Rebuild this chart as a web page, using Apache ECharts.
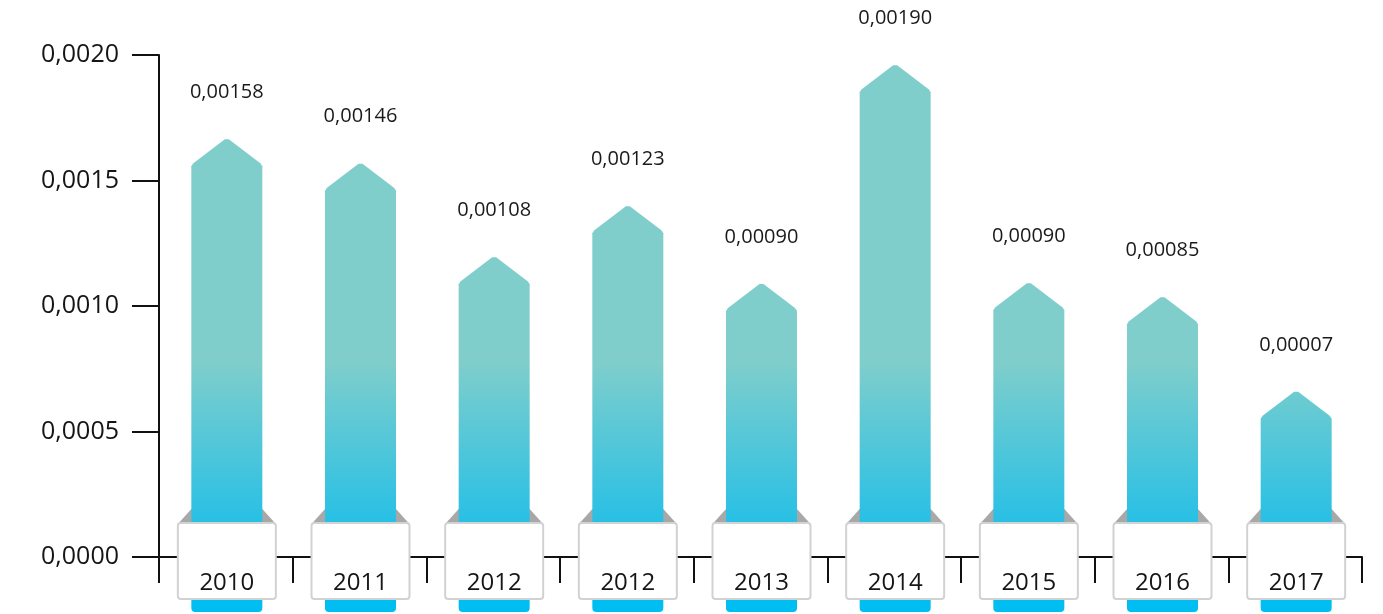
<!DOCTYPE html>
<html>
<head>
<meta charset="utf-8">
<script src="https://cdn.jsdelivr.net/npm/echarts@6/dist/echarts.min.js"></script>
<style>
html,body{margin:0;padding:0;background:#fff;}
#chart{width:1383px;height:614px;}
</style>
</head>
<body>
<div id="chart"></div>
<script>
var categories = ['2010','2011','2012','2012','2013','2014','2015','2016','2017'];
var barValues = [0.001668, 0.001571, 0.001198, 0.001401, 0.001092, 0.001963, 0.001095, 0.001039, 0.000662];
var labelTexts = ['0,00158','0,00146','0,00108','0,00123','0,00090','0,00190','0,00090','0,00085','0,00007'];
var yTicks = [0, 0.0005, 0.0010, 0.0015, 0.0020];

var FONT = '"Open Sans", "Noto Sans", sans-serif';
var chart = echarts.init(document.getElementById('chart'), null, {renderer: 'canvas'});

var seriesData = barValues.map(function (v, i) { return [i, v]; });

function renderItem(params, api) {
  var idx = api.value(0);
  var val = api.value(1);
  var top = api.coord([idx, val]);
  var base = api.coord([idx, 0]);
  var cx = top[0] + 1;
  var peakY = top[1];
  var zeroY = base[1];
  var bw = 71, hw = bw / 2;
  var arrowH = 26;
  var shoulderY = peakY + arrowH;
  var boxW = 98, boxTop = zeroY - 34, boxBot = zeroY + 42;
  var grad = new echarts.graphic.LinearGradient(0, 360, 0, 520, [
    {offset: 0, color: '#80CECB'},
    {offset: 1, color: '#29C0E5'}
  ], true);
  return {
    type: 'group',
    children: [
      {type: 'rect', shape: {x: cx - hw, y: boxBot - 12, width: bw, height: 25, r: [0, 0, 4, 4]},
       style: {fill: '#00BEF2'}},
      {type: 'polygon', shape: {points: [[cx - boxW / 2, boxTop + 1], [cx - hw, boxTop - 14], [cx + hw, boxTop - 14], [cx + boxW / 2, boxTop + 1]]},
       style: {fill: '#A8A8A8'}},
      {type: 'polygon', shape: {points: [
          [cx - hw, zeroY], [cx - hw, shoulderY + 2], [cx - hw + 2, shoulderY - 1],
          [cx - 2, peakY + 1], [cx + 2, peakY + 1],
          [cx + hw - 2, shoulderY - 1], [cx + hw, shoulderY + 2], [cx + hw, zeroY]
        ]},
       style: {fill: grad}},
      {type: 'rect', shape: {x: cx - boxW / 2, y: boxTop, width: boxW, height: boxBot - boxTop, r: 3},
       style: {fill: '#FFFFFF', stroke: '#D2D2D2', lineWidth: 2}},
      {type: 'text', x: cx, y: zeroY + 26,
       style: {text: categories[idx], fill: '#151515', font: '24px ' + FONT, align: 'center', verticalAlign: 'middle'}},
      {type: 'text', x: cx, y: peakY - 46,
       style: {text: labelTexts[idx], fill: '#1a1a1a', font: '20px ' + FONT, align: 'center', verticalAlign: 'middle'}}
    ]
  };
}

var option = {
  animation: false,
  backgroundColor: '#ffffff',
  grid: {left: 159, right: 21, top: 55, bottom: 57, containLabel: false},
  xAxis: {
    type: 'category',
    data: categories,
    boundaryGap: true,
    axisLine: {show: true, lineStyle: {color: '#111', width: 2}},
    axisTick: {show: true, alignWithLabel: false, length: 26, lineStyle: {color: '#111', width: 2}},
    axisLabel: {show: false},
    splitLine: {show: false}
  },
  yAxis: {
    type: 'value',
    min: yTicks[0],
    max: yTicks[yTicks.length - 1],
    interval: yTicks[1] - yTicks[0],
    axisLine: {show: true, lineStyle: {color: '#111', width: 2}},
    axisTick: {show: true, length: 27, lineStyle: {color: '#111', width: 2}},
    axisLabel: {
      margin: 40, color: '#151515', fontSize: 25, fontFamily: FONT,
      formatter: function (v) { return v.toFixed(4).replace('.', ','); }
    },
    splitLine: {show: false}
  },
  series: [{
    type: 'custom',
    renderItem: renderItem,
    clip: false,
    data: seriesData,
    encode: {x: 0, y: 1}
  }]
};
chart.setOption(option);
</script>
</body>
</html>
